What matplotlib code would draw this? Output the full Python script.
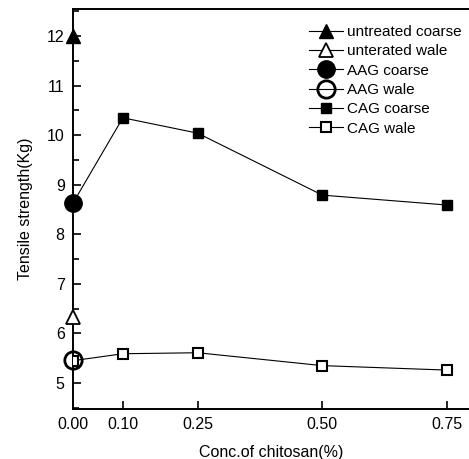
import matplotlib
matplotlib.use("Agg")
import matplotlib.pyplot as plt
from matplotlib.ticker import MultipleLocator

plt.rcParams['font.family'] = ['Liberation Sans', 'DejaVu Sans']

conc = [0.00, 0.10, 0.25, 0.50, 0.75]
cag_coarse = [8.63, 10.35, 10.04, 8.79, 8.59]
cag_wale = [5.45, 5.59, 5.61, 5.35, 5.26]
untreated_coarse = [12.0]
untreated_wale = [6.33]
aag_coarse = [8.63]
aag_wale = [5.47]
x0 = [0.0]
xticks = [0.00, 0.10, 0.25, 0.50, 0.75]
xticklabels = ["0.00", "0.10", "0.25", "0.50", "0.75"]

fig = plt.figure(figsize=(4.69, 4.59), dpi=100)
ax = fig.add_axes([73/469, 1-409/459, 1-73/469, 400/459])

lw = 0.8
ax.plot(conc, cag_coarse, '-', color='black', lw=lw, marker='s', ms=7.5,
        mfc='black', mec='black', label='CAG coarse', zorder=3)
ax.plot(conc, cag_wale, '-', color='black', lw=lw, marker='s', ms=7.5,
        mfc='white', mec='black', mew=1.5, label='CAG wale', zorder=3)
ax.plot(x0, untreated_coarse, '-', color='black', lw=lw, marker='^', ms=10,
        mfc='black', mec='black', label='untreated coarse', zorder=4, clip_on=False)
ax.plot(x0, untreated_wale, '-', color='black', lw=lw, marker='^', ms=10,
        mfc='white', mec='black', mew=1.3, label='unterated wale', zorder=4, clip_on=False)
ax.plot(x0, aag_coarse, '-', color='black', lw=lw, marker='o', ms=12.5,
        mfc='black', mec='black', label='AAG coarse', zorder=4, clip_on=False)
ax.plot(x0, aag_wale, '-', color='black', lw=lw, marker='o', ms=12.5,
        mfc='none', mec='black', mew=2, label='AAG wale', zorder=4, clip_on=False)

ax.set_xlim(0, 0.794)
ax.set_ylim(4.475, 12.545)
ax.set_xticks(xticks)
ax.set_xticklabels(xticklabels)
ax.yaxis.set_major_locator(MultipleLocator(1))
ax.yaxis.set_minor_locator(MultipleLocator(0.5))
ax.tick_params(axis='both', which='major', direction='in', length=6, width=1.2,
               labelsize=11.5, colors='black', pad=6)
ax.tick_params(axis='y', which='minor', direction='in', length=4, width=1.2)
ax.spines['right'].set_visible(False)
for s in ['left', 'bottom', 'top']:
    ax.spines[s].set_linewidth(1.4)

ax.set_ylabel('Tensile strength(Kg)', fontsize=11.5, labelpad=10)
ax.set_xlabel('Conc.of chitosan(%)', fontsize=11.5, labelpad=9)

handles, labels = ax.get_legend_handles_labels()
order = [2, 3, 4, 5, 0, 1]
leg = ax.legend([handles[i] for i in order], [labels[i] for i in order],
                loc='upper right', bbox_to_anchor=(1.005, 0.983), frameon=False,
                fontsize=11, handlelength=2.2, handletextpad=0.3,
                labelspacing=0.35, borderaxespad=0.2)

fig.savefig('out.png', dpi=100)
